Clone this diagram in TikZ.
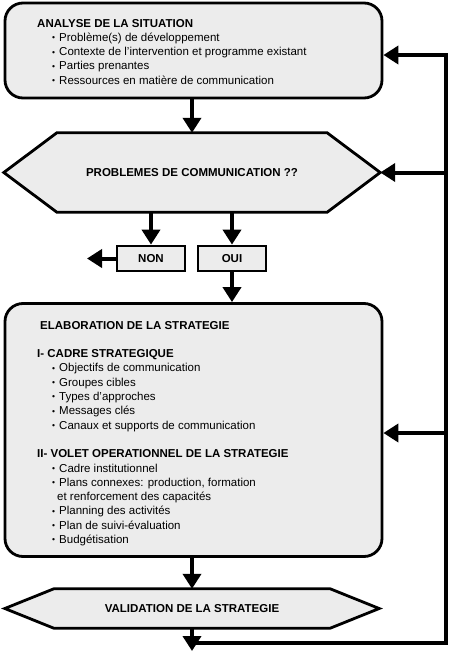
\documentclass[tikz,border=0pt]{standalone}
\usepackage{fontspec}
\setmainfont{Liberation Sans}
\usetikzlibrary{arrows.meta,calc,backgrounds}
\definecolor{boxgray}{RGB}{236,236,236}
\newcommand{\itm}{\hspace*{15pt}\makebox[7pt][l]{\raisebox{0.6pt}{\fontsize{8.5}{8.5}\selectfont\textbullet}}}

\begin{document}
\begin{tikzpicture}[x=1pt, y=-1pt, font=\fontsize{11.5}{14.3}\selectfont,
    block/.style={draw, line width=2.8pt, fill=boxgray, rounded corners=18pt},
    hexa/.style={draw, line width=2.8pt, fill=boxgray},
    choice/.style={draw, line width=2.8pt, fill=boxgray, minimum width=68pt, minimum height=25pt, inner sep=0pt, font=\fontsize{11.5}{14.3}\selectfont\bfseries},
    question/.style={inner sep=0pt, font=\fontsize{11.5}{14.3}\selectfont\bfseries},
    txt/.style={anchor=north west, align=left, inner sep=0pt},
    flow/.style={line width=4pt, -{Triangle[width=18pt,length=15pt]}}]
      \useasboundingbox (0,0) rectangle (450,651);

      \node [block, minimum width=377pt, minimum height=95pt] (analyse) at (193.5,50.5) {};
      \node [txt] (analysetxt) at (37,18.8) {\textbf{ANALYSE DE LA SITUATION}\\
        \itm Problème(s) de développement\\
        \itm Contexte de l'intervention et programme existant\\
        \itm Parties prenantes\\
        \itm Ressources en matière de communication};

      \node [question, minimum width=270pt, minimum height=79pt] (pb) at (192,172.5) {PROBLEMES DE COMMUNICATION ??};
      \coordinate (pbL) at ($(pb.west)+(-53,0)$);
      \coordinate (pbR) at ($(pb.east)+(53,0)$);
      \begin{scope}[on background layer]
        \draw [hexa] (pbL) -- (pb.north west) -- (pb.north east) -- (pbR) -- (pb.south east) -- (pb.south west) -- cycle;
      \end{scope}

      \node [choice] (non) at (151,258.5) {NON};
      \node [choice] (oui) at (232,258.5) {OUI};
      \coordinate (exit) at (87,258.5);

      \node [block, minimum width=377pt, minimum height=253pt] (strat) at (193.5,430) {};
      \node [txt] (strattxt) at (37,320.8) {\hspace*{3pt}\textbf{ELABORATION DE LA STRATEGIE}\\[14.3pt]
        \textbf{I- CADRE STRATEGIQUE}\\
        \itm Objectifs de communication\\
        \itm Groupes cibles\\
        \itm Types d'approches\\
        \itm Messages clés\\
        \itm Canaux et supports de communication\\[14.3pt]
        \textbf{II- VOLET OPERATIONNEL DE LA STRATEGIE}\\
        \itm Cadre institutionnel\\
        \itm Plans connexes: production, formation\\
        \hspace*{20pt}et renforcement des capacités\\
        \itm Planning des activités\\
        \itm Plan de suivi-évaluation\\
        \itm Budgétisation};

      \node [question, minimum width=276pt, minimum height=39pt] (valid) at (192,608.5) {VALIDATION DE LA STRATEGIE};
      \coordinate (validL) at ($(valid.west)+(-49,0)$);
      \coordinate (validR) at ($(valid.east)+(49,0)$);
      \begin{scope}[on background layer]
        \draw [hexa] (validL) -- (valid.north west) -- (valid.north east) -- (validR) -- (valid.south east) -- (valid.south west) -- cycle;
      \end{scope}

      \coordinate (out) at (192,651);
      \coordinate (back) at (192,642.5);
      \coordinate (top) at (446,55);
      \coordinate (in2) at ([yshift=-3pt]strat.east);

      \draw [flow] (analyse.south -| pb.north) -- (pb.north);
      \draw [flow] (pb.south -| non.north) -- (non.north);
      \draw [flow] (pb.south -| oui.north) -- (oui.north);
      \draw [flow] (non.west) -- (exit);
      \draw [flow] (oui.south) -- (oui.south |- strat.north);
      \draw [flow] (strat.south -| valid.north) -- (valid.north);
      \draw [flow] (valid.south) -- (out);
      \draw [flow] (back) -| (top) -- (top -| analyse.east);
      \draw [flow] (pbR -| top) -- (pbR);
      \draw [flow] (in2 -| top) -- (in2);
\end{tikzpicture}
\end{document}
